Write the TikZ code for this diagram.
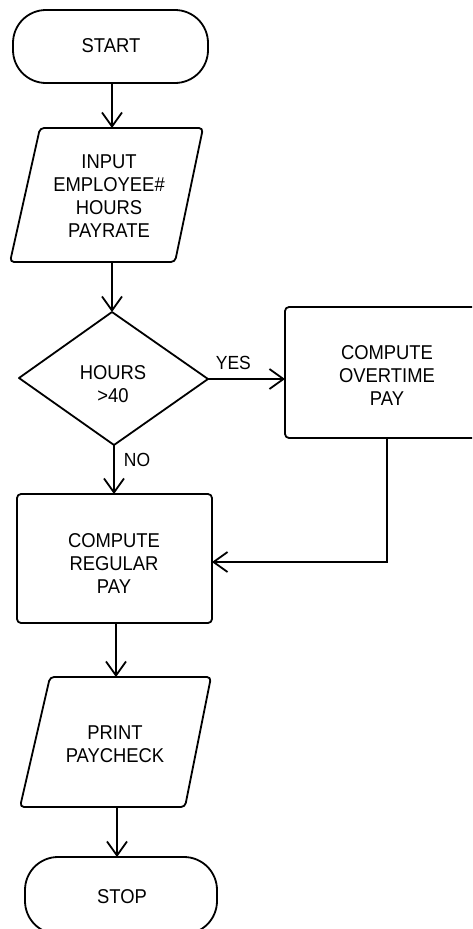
\documentclass[tikz,border=0pt]{standalone}
\usepackage{fontspec}
\setmainfont{Liberation Sans}[FakeStretch=0.92]
\usetikzlibrary{arrows.meta}
\begin{document}
\begin{tikzpicture}[x=1pt,y=-1pt,
  every node/.style={font=\fontsize{20}{23}\selectfont, align=center, inner sep=0pt},
  shapeline/.style={draw=black, line width=1.8pt, line join=round},
  flow/.style={draw=black, line width=1.8pt, -{Straight Barb[length=14pt,width=20pt,line width=1.8pt]}},
  lbl/.style={font=\fontsize{19}{22}\selectfont}]
\useasboundingbox (0,0) rectangle (472,929);
\clip (0,0) rectangle (472,929);
% START terminal
\draw[shapeline, rounded corners=33pt] (13,10) rectangle (208,83);
\node (start) at (111,46) {START};
\coordinate (startS) at (112,83);
% INPUT parallelogram
\draw[shapeline, rounded corners=4pt] (40,128) -- (203,128) -- (175,262) -- (10,262) -- cycle;
\node (input) at (109,196) {INPUT\\EMPLOYEE\#\\HOURS\\PAYRATE};
\coordinate (inN) at (112,128);
\coordinate (inS) at (112,262);
% Decision
\coordinate (dN) at (112,312);
\coordinate (dE) at (208,379);
\coordinate (dS) at (114,445);
\coordinate (dW) at (19,378);
\draw[shapeline] (dN) -- (dE) -- (dS) -- (dW) -- cycle;
\node (dec) at (113,384) {HOURS\\>40};
% Overtime box
\draw[shapeline, rounded corners=4pt] (285,307) rectangle (490,438);
\node (ot) at (387,376) {COMPUTE\\OVERTIME\\PAY};
\coordinate (otW) at (285,379);
\coordinate (otS) at (387,438);
% Regular box
\draw[shapeline, rounded corners=4pt] (17,494) rectangle (212,623);
\node (reg) at (114,564) {COMPUTE\\REGULAR\\PAY};
\coordinate (regN) at (114,494);
\coordinate (regE) at (212,562);
\coordinate (regS) at (116,623);
% Print parallelogram
\draw[shapeline, rounded corners=4pt] (50,677) -- (211,677) -- (185,807) -- (20,807) -- cycle;
\node (print) at (115,744) {PRINT\\PAYCHECK};
\coordinate (prN) at (116,677);
\coordinate (prS) at (117,807);
% STOP terminal
\draw[shapeline, rounded corners=33pt] (25,857) rectangle (217,934);
\node (stop) at (122,897) {STOP};
\coordinate (stopN) at (117,857);
% connectors
\draw[flow] (startS) -- (inN);
\draw[flow] (inS) -- (dN);
\draw[flow] (dE) -- node[lbl, above=8pt, pos=0.33] (yes) {YES} (otW);
\draw[flow] (dS) -- node[lbl, right=9pt, pos=0.3] (no) {NO} (regN);
\draw[flow] (otS) |- (regE);
\draw[flow] (regS) -- (prN);
\draw[flow] (prS) -- (stopN);
\end{tikzpicture}
\end{document}
